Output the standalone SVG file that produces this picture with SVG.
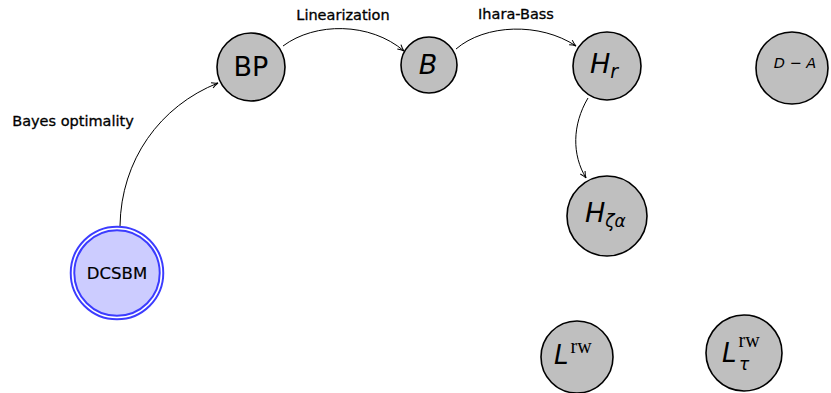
<svg xmlns="http://www.w3.org/2000/svg" width="831" height="393" viewBox="0 0 831 393">
  <style>
    .node { fill: #bfbfbf; stroke: #000; stroke-width: 1.6; }
    .lbl { font-family: "DejaVu Sans", "Liberation Sans", sans-serif; fill: #000; }
    .math { font-family: "DejaVu Sans", "Liberation Sans", sans-serif; font-style: italic; fill: #000; }
    .rm { font-family: "Liberation Serif", "DejaVu Serif", serif; font-style: normal; fill: #000; }
    .edge { fill: none; stroke: #000; stroke-width: 1; marker-end: url(#arrow); }
    .elabel { font-family: "DejaVu Sans", "Liberation Sans", sans-serif; font-size: 14.5px; fill: #000; stroke: #000; stroke-width: 0.3; text-anchor: middle; }
  </style>
  <defs>
    <marker id="arrow" viewBox="0 0 10 10" refX="9" refY="5" markerWidth="8" markerHeight="8" markerUnits="userSpaceOnUse" orient="auto">
      <path d="M1,1.5 Q5,4 9,5 Q5,6 1,8.5" fill="none" stroke="#000" stroke-width="1.3"/>
    </marker>
  </defs>

  <!-- connectors -->
  <g id="edges">
    <path class="edge" d="M120,226 C121,160 160,106 218,83"/>
    <path class="edge" d="M283,46 C315,22 370,22 404,51"/>
    <path class="edge" d="M456,49 C485,24 540,22 576,46"/>
    <path class="edge" d="M588,98 C572,125 572,155 586,178"/>
    <text class="elabel" x="73" y="126">Bayes optimality</text>
    <text class="elabel" x="343" y="20">Linearization</text>
    <text class="elabel" x="516" y="19">Ihara-Bass</text>
  </g>

  <!-- DCSBM: double-ringed source node -->
  <g id="dcsbm">
    <circle cx="117" cy="273" r="44.5" fill="#ccccff" stroke="#3c3cff" stroke-width="5.5"/>
    <circle cx="117" cy="273" r="44.5" fill="none" stroke="#fff" stroke-width="1.6"/>
    <text class="lbl" x="117" y="279" font-size="16.5" stroke="#000" stroke-width="0.2" text-anchor="middle">DCSBM</text>
  </g>

  <g id="bp">
    <circle class="node" cx="251" cy="67" r="34"/>
    <text class="lbl" x="251" y="76" font-size="27" text-anchor="middle">BP</text>
  </g>

  <g id="b">
    <circle class="node" cx="429" cy="65" r="28"/>
    <text class="math" x="428" y="74" font-size="27" text-anchor="middle">B</text>
  </g>

  <g id="hr">
    <circle class="node" cx="607" cy="66" r="34"/>
    <text class="math" x="590" y="73" font-size="27">H<tspan font-size="19" dy="5">r</tspan></text>
  </g>

  <g id="hzeta">
    <circle class="node" cx="607" cy="216" r="40"/>
    <text class="math" x="585" y="222" font-size="27">H<tspan font-size="17" dy="5">ζα</tspan></text>
  </g>

  <g id="da">
    <circle class="node" cx="792" cy="68" r="36"/>
    <text class="math" x="795" y="68" font-size="14.5" text-anchor="middle">D − A</text>
  </g>

  <g id="lrw">
    <circle class="node" cx="577" cy="357" r="36"/>
    <text class="math" x="554" y="364" font-size="26">L<tspan class="rm" font-size="20" dx="2" dy="-11">rw</tspan></text>
  </g>

  <g id="ltau">
    <circle class="node" cx="744" cy="353" r="38"/>
    <text class="math" x="722" y="362" font-size="26">L<tspan class="rm" font-size="20" dx="2" dy="-15">rw</tspan><tspan x="739" y="370" font-size="17">τ</tspan></text>
  </g>
</svg>
